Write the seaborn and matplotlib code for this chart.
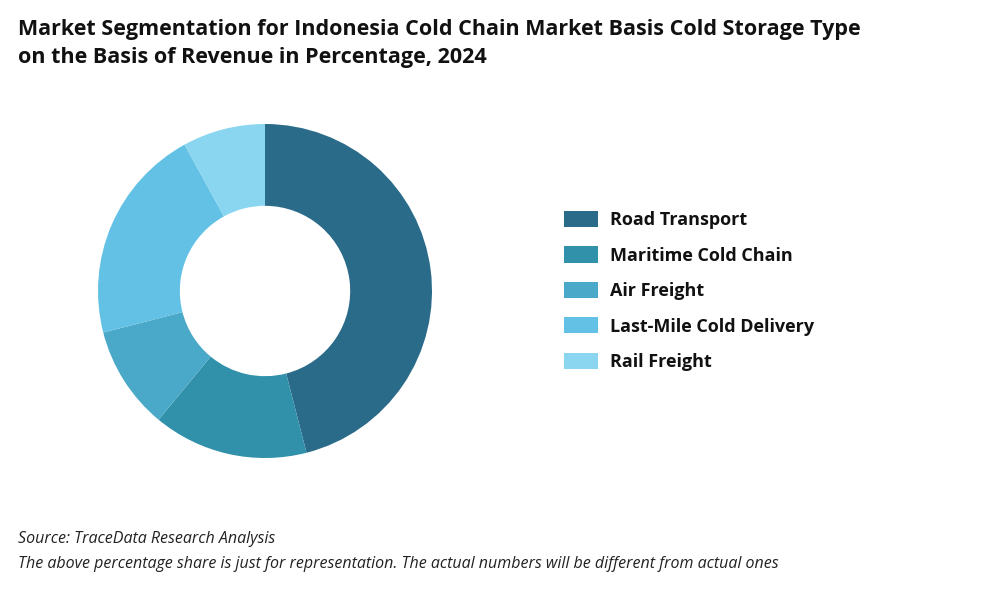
import matplotlib
matplotlib.use("Agg")
import matplotlib.pyplot as plt
import seaborn as sns
from matplotlib.patches import Patch

sns.set_theme(style="white")
plt.rcParams['font.family'] = ['Open Sans', 'DejaVu Sans']

categories = ["Road Transport", "Maritime Cold Chain", "Air Freight", "Last-Mile Cold Delivery", "Rail Freight"]
values = [46, 15, 10, 21, 8]
colors = ["#2a6b8a", "#3190aa", "#4aa8c8", "#62c1e4", "#8ad6f1"]

fig = plt.figure(figsize=(10, 6), dpi=100)
fig.patch.set_facecolor("white")
ax = fig.add_axes([(265-167)/1000, (600-291-167)/600, 334/1000, 334/600])
ax.pie(values, colors=colors, startangle=90, counterclock=False,
       wedgeprops=dict(width=0.49, edgecolor="none"))
ax.set_aspect("equal")
ax.set_xlim(-1, 1); ax.set_ylim(-1, 1)
ax.axis("off")

fig.text(0.018, 0.968, "Market Segmentation for Indonesia Cold Chain Market Basis Cold Storage Type\non the Basis of Revenue in Percentage, 2024",
         fontsize=15.5, fontweight="bold", va="top", ha="left", color="#111111", linespacing=1.4)

handles = [Patch(facecolor=c, edgecolor="none") for c in colors]
fig.legend(handles, categories, loc="center left", bbox_to_anchor=(0.548, 0.515),
           frameon=False, prop=dict(size=13, weight="bold"), handlelength=1.85,
           handleheight=1.0, labelspacing=0.95, handletextpad=0.7, labelcolor="#111111")

fig.text(0.018, 0.095, "Source: TraceData Research Analysis", fontsize=11.5, style="italic", color="#222222")
fig.text(0.018, 0.053, "The above percentage share is just for representation. The actual numbers will be different from actual ones",
         fontsize=11.5, style="italic", color="#222222")

fig.savefig("out.png", dpi=100, facecolor="white")
